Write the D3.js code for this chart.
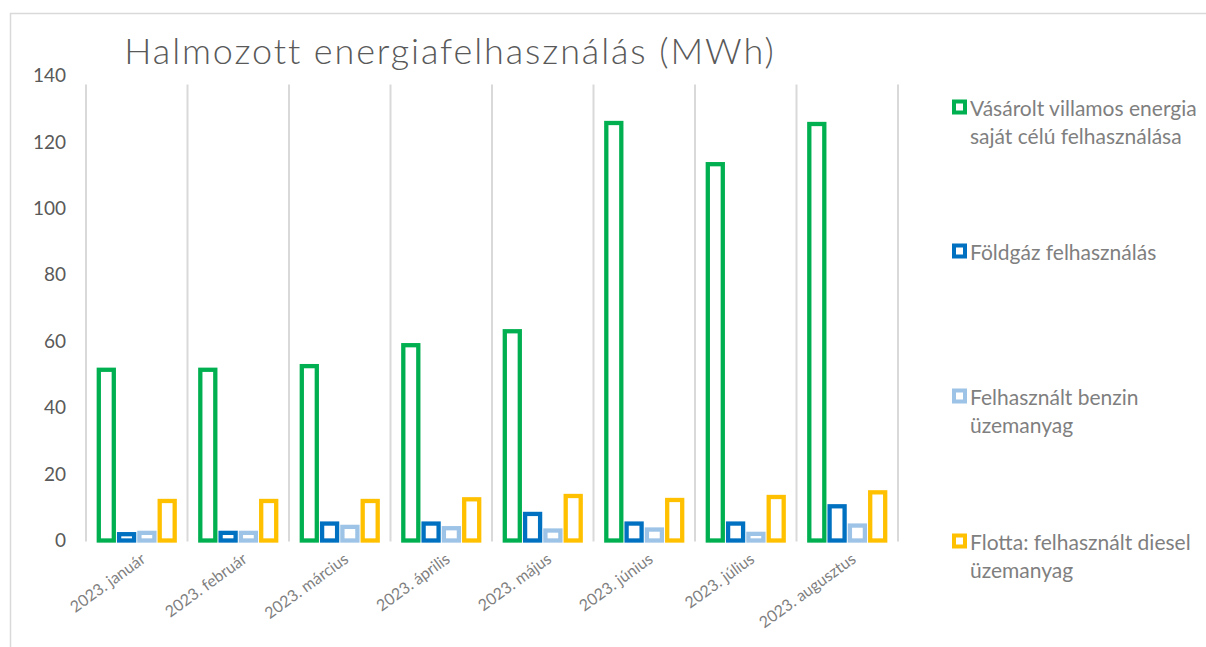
<!DOCTYPE html>
<html>
<head>
<meta charset="utf-8">
<script src="https://cdn.jsdelivr.net/npm/d3@7"></script>
<style>
  html, body { margin: 0; padding: 0; background: #fff; }
  svg { display: block; }
  text { font-family: Lato, "Open Sans", "Liberation Sans", sans-serif; }
</style>
</head>
<body>
<svg id="chart" width="1206" height="647"></svg>
<script>
const months = ["2023. január", "2023. február", "2023. március", "2023. április",
                "2023. május", "2023. június", "2023. július", "2023. augusztus"];
const seriesNames = ["Vásárolt villamos energia saját célú felhasználása",
                     "Földgáz felhasználás",
                     "Felhasznált benzin üzemanyag",
                     "Flotta: felhasznált diesel üzemanyag"];
const legendLines = [["Vásárolt villamos energia", "saját célú felhasználása"],
                     ["Földgáz felhasználás"],
                     ["Felhasznált benzin", "üzemanyag"],
                     ["Flotta: felhasznált diesel", "üzemanyag"]];
const villamos = [51.4, 51.4, 52.5, 58.8, 63.0, 125.7, 113.3, 125.4];
const foldgaz  = [1.9, 2.3, 5.1, 5.1, 8.0, 5.1, 5.1, 10.3];
const benzin   = [2.3, 2.3, 4.1, 3.7, 3.0, 3.3, 2.0, 4.5];
const diesel   = [11.9, 11.9, 11.9, 12.4, 13.4, 12.2, 13.1, 14.5];
const yTicks = [0, 20, 40, 60, 80, 100, 120, 140];
const colors = ["#00B050", "#0070C0", "#9DC3E6", "#FFC000"];
const title = "Halmozott energiafelhasználás (MWh)";

const values = [villamos, foldgaz, benzin, diesel];
const svg = d3.select("#chart");

// chart border (left + top visible)
svg.append("rect").attr("x", 10.5).attr("y", 13.5).attr("width", 1300).attr("height", 700)
  .attr("fill", "none").attr("stroke", "#d9d9d9").attr("stroke-width", 1.5);

const x = d3.scaleBand().domain(months).range([86, 898]).paddingInner(0).paddingOuter(0);
const xs = d3.scaleBand().domain(d3.range(4)).range([0, x.bandwidth()]).paddingInner(0).paddingOuter(0.5);
const y = d3.scaleLinear().domain([0, 140]).range([540.5, 75.5]);

// title
svg.append("text").attr("x", 450).attr("y", 64).attr("text-anchor", "middle")
  .attr("font-size", 36).attr("font-weight", 300).attr("fill", "#595959")
  .attr("letter-spacing", 1.9).text(title);

// vertical gridlines at category boundaries
const bounds = months.map(m => x(m)).concat([x(months[months.length - 1]) + x.bandwidth()]);
svg.append("g").selectAll("line").data(bounds).join("line")
  .attr("x1", d => d).attr("x2", d => d)
  .attr("y1", y(140) + 9).attr("y2", y(0) + 1)
  .attr("stroke", "#d9d9d9").attr("stroke-width", 2);

// y axis labels
const yAxis = d3.axisLeft(y).tickValues(yTicks).tickSize(0).tickPadding(0);
const ya = svg.append("g").attr("transform", "translate(66,0)").call(yAxis);
ya.select(".domain").remove();
ya.selectAll("text").attr("font-size", 19).attr("fill", "#595959")
  .style("font-family", "Lato, 'Open Sans', sans-serif");

// bars
const sw = 4.3;
const g = svg.append("g");
values.forEach((arr, si) => {
  g.selectAll(null).data(arr).join("rect")
    .attr("x", (d, i) => x(months[i]) + xs(si) + sw / 2 + 0.5)
    .attr("width", xs.bandwidth() - sw - 1)
    .attr("y", d => y(d))
    .attr("height", d => y(0) - y(d))
    .attr("fill", "#fff")
    .attr("stroke", colors[si])
    .attr("stroke-width", sw);
});

// x axis labels
const xAxis = d3.axisBottom(x).tickSize(0).tickPadding(0);
const xa = svg.append("g").call(xAxis);
xa.select(".domain").remove();
xa.selectAll(".tick").attr("transform", d => `translate(${x(d) + x.bandwidth() / 2 + 9},560)`);
xa.selectAll("text")
  .attr("text-anchor", "end").attr("transform", "rotate(-36)")
  .attr("x", 0).attr("y", 0).attr("dy", "0.1em")
  .attr("font-size", 16).attr("fill", "#7f7f7f")
  .style("font-family", "Lato, 'Open Sans', sans-serif");

// legend
const legendY = [107, 251, 396, 541];
const lg = svg.append("g");
legendLines.forEach((lines, i) => {
  lg.append("rect").attr("x", 954).attr("y", legendY[i] - 5.5).attr("width", 11).attr("height", 11)
    .attr("fill", "#fff").attr("stroke", colors[i]).attr("stroke-width", 4);
  const t = lg.append("text").attr("x", 970).attr("y", legendY[i])
    .attr("font-size", 21).attr("fill", "#7f7f7f").attr("dominant-baseline", "central");
  lines.forEach((ln, j) => {
    t.append("tspan").attr("x", 970).attr("dy", j === 0 ? 0 : 27.5).text(ln);
  });
});
</script>
</body>
</html>
